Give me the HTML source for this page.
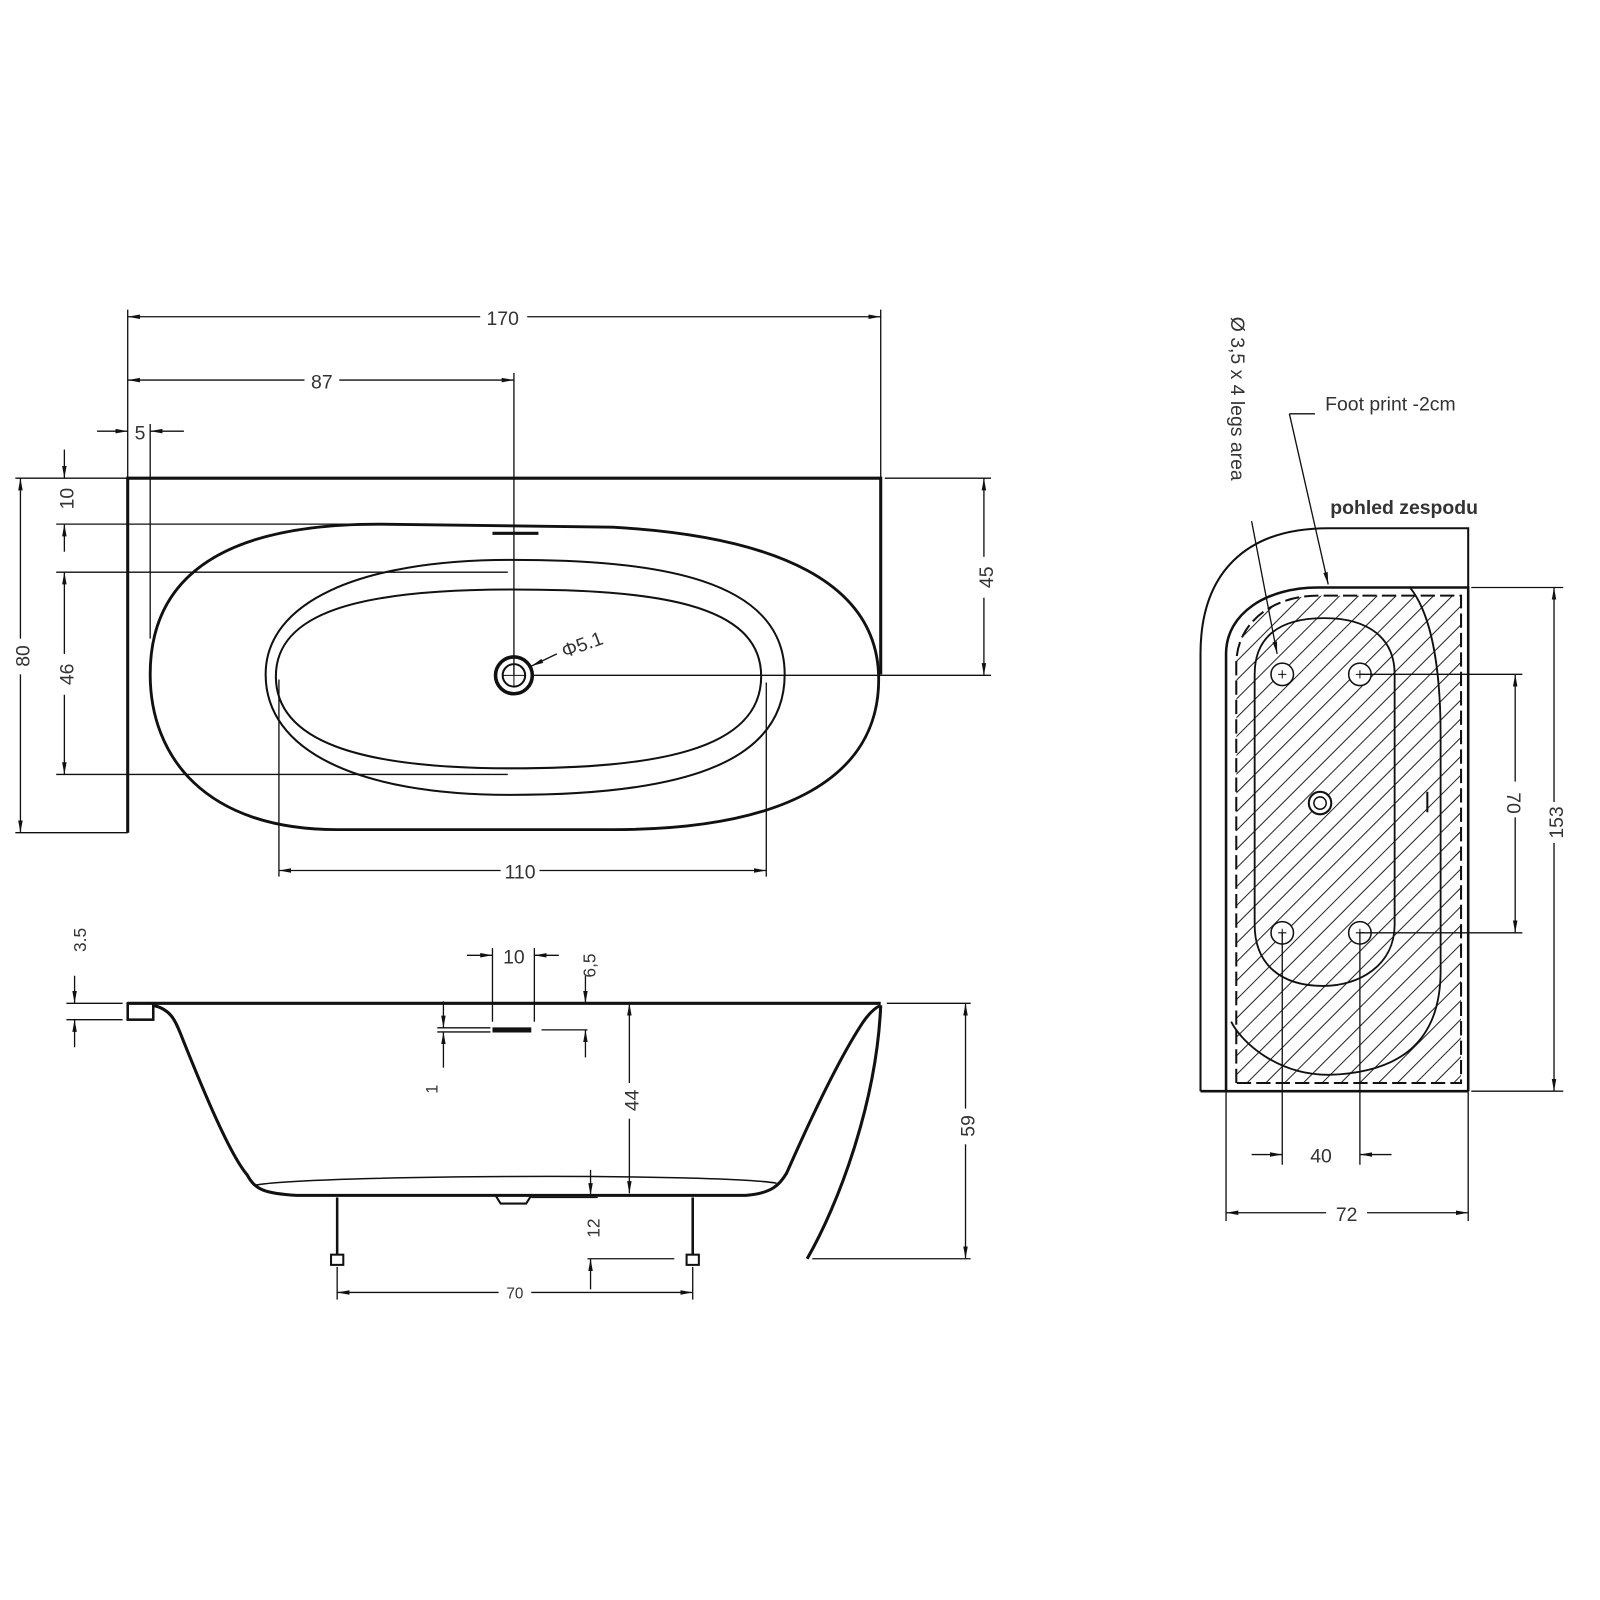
<!DOCTYPE html>
<html><head><meta charset="utf-8"><style>
html,body{margin:0;padding:0;background:#fff}
svg{display:block}
text{font-family:"Liberation Sans",sans-serif;fill:#333}
</style></head><body>
<svg width="1600" height="1600" viewBox="0 0 1566 1566" xmlns="http://www.w3.org/2000/svg">
<defs>
<marker id="a" viewBox="0 0 12 6" refX="12" refY="3" markerWidth="12" markerHeight="6" orient="auto" markerUnits="userSpaceOnUse"><path d="M0,0.8 L12,3 L0,5.2z" fill="#111"/></marker>
<marker id="b" viewBox="0 0 12 6" refX="0" refY="3" markerWidth="12" markerHeight="6" orient="auto" markerUnits="userSpaceOnUse"><path d="M12,0.8 L0,3 L12,5.2z" fill="#111"/></marker>
<pattern id="h" patternUnits="userSpaceOnUse" width="13" height="13" patternTransform="rotate(45)"><line x1="0" y1="0" x2="0" y2="13" stroke="#222" stroke-width="2"/></pattern>
<clipPath id="c"><path d="M1210,1060 L1210,650 C1210,610 1245,583 1290,583 L1430,583 L1430,1060 Z"/></clipPath>
</defs>
<g fill="none" stroke="#111">
<!-- TOP VIEW -->
<g stroke-width="1.3">
<line x1="125" y1="303" x2="125" y2="468"/><line x1="862" y1="303" x2="862" y2="468"/>
<line x1="125" y1="310" x2="470" y2="310" marker-start="url(#b)"/><line x1="516" y1="310" x2="862" y2="310" marker-end="url(#a)"/>
<line x1="125" y1="372" x2="298" y2="372" marker-start="url(#b)"/><line x1="332" y1="372" x2="503" y2="372" marker-end="url(#a)"/>
<line x1="503" y1="365" x2="503" y2="661"/>
<line x1="95" y1="422" x2="125" y2="422" marker-end="url(#a)"/><line x1="180" y1="422" x2="147" y2="422" marker-end="url(#a)"/>
<line x1="147" y1="415" x2="147" y2="625"/>
<line x1="15" y1="468" x2="125" y2="468"/><line x1="15" y1="815" x2="125" y2="815"/>
<line x1="55" y1="513" x2="370" y2="513"/>
<line x1="55" y1="560" x2="497" y2="560"/><line x1="55" y1="758" x2="497" y2="758"/>
<line x1="63" y1="440" x2="63" y2="468" marker-end="url(#a)"/><line x1="63" y1="540" x2="63" y2="513" marker-end="url(#a)"/>
<line x1="63" y1="560" x2="63" y2="640" marker-start="url(#b)"/><line x1="63" y1="680" x2="63" y2="758" marker-end="url(#a)"/>
<line x1="20" y1="468" x2="20" y2="625" marker-start="url(#b)"/><line x1="20" y1="660" x2="20" y2="815" marker-end="url(#a)"/>
<line x1="866" y1="468" x2="970" y2="468"/><line x1="520" y1="661" x2="970" y2="661"/>
<line x1="963" y1="468" x2="963" y2="545" marker-start="url(#b)"/><line x1="963" y1="585" x2="963" y2="661" marker-end="url(#a)"/>
<line x1="273" y1="665" x2="273" y2="858"/><line x1="750" y1="668" x2="750" y2="858"/>
<line x1="273" y1="852" x2="490" y2="852" marker-start="url(#b)"/><line x1="528" y1="852" x2="750" y2="852" marker-end="url(#a)"/>
<line x1="520" y1="652" x2="545" y2="640" marker-start="url(#b)"/>
</g>
<path d="M125,815 L125,468 L862,468 L862,660" stroke-width="3"/>
<path d="M370,513 L600,516 C760,525 860,570 860,665 C860,760 770,812 600,812 L330,812 C200,812 147,740 147,660 C147,570 210,513 370,513 Z" stroke-width="2.8"/>
<path d="M260,660 C260,590 350,548 500,548 C640,548 768,565 768,660 C768,750 660,778 500,778 C350,778 260,735 260,660 Z" stroke-width="2"/>
<path d="M270,662 C270,600 350,577 500,577 C640,577 745,590 745,662 C745,735 640,752 500,752 C350,752 270,725 270,662 Z" stroke-width="2"/>
<line x1="482" y1="522" x2="527" y2="522" stroke-width="3"/>
<circle cx="503" cy="661" r="18" stroke-width="3.5"/><circle cx="503" cy="661" r="11" stroke-width="2"/>
<line x1="492" y1="661" x2="514" y2="661" stroke-width="1"/><line x1="503" y1="650" x2="503" y2="672" stroke-width="1"/>

<!-- SIDE VIEW -->
<g stroke-width="1.3">
<line x1="65" y1="982" x2="120" y2="982"/><line x1="65" y1="998" x2="120" y2="998"/>
<line x1="73" y1="955" x2="73" y2="982" marker-end="url(#a)"/><line x1="73" y1="1025" x2="73" y2="998" marker-end="url(#a)"/>
<line x1="482" y1="928" x2="482" y2="1000"/><line x1="523" y1="928" x2="523" y2="1000"/>
<line x1="457" y1="935" x2="482" y2="935" marker-end="url(#a)"/><line x1="547" y1="935" x2="523" y2="935" marker-end="url(#a)"/>
<line x1="428" y1="1006" x2="480" y2="1006"/><line x1="428" y1="1010" x2="480" y2="1010"/>
<line x1="530" y1="1008" x2="575" y2="1008"/>
<line x1="573" y1="955" x2="573" y2="982" marker-end="url(#a)"/><line x1="573" y1="1035" x2="573" y2="1008" marker-end="url(#a)"/>
<line x1="434" y1="980" x2="434" y2="1006" marker-end="url(#a)"/><line x1="434" y1="1045" x2="434" y2="1010" marker-end="url(#a)"/>
<line x1="616" y1="982" x2="616" y2="1060" marker-start="url(#b)"/><line x1="616" y1="1095" x2="616" y2="1168" marker-end="url(#a)"/>
<line x1="578" y1="1145" x2="578" y2="1170" marker-end="url(#a)"/><line x1="520" y1="1172" x2="585" y2="1172"/>
<line x1="578" y1="1262" x2="578" y2="1232" marker-end="url(#a)"/><line x1="575" y1="1232" x2="660" y2="1232"/>
<line x1="868" y1="982" x2="950" y2="982"/><line x1="795" y1="1232" x2="950" y2="1232"/>
<line x1="945" y1="982" x2="945" y2="1085" marker-start="url(#b)"/><line x1="945" y1="1120" x2="945" y2="1232" marker-end="url(#a)"/>
<line x1="330" y1="1265" x2="488" y2="1265" marker-start="url(#b)"/><line x1="520" y1="1265" x2="678" y2="1265" marker-end="url(#a)"/>
<line x1="330" y1="1240" x2="330" y2="1272"/><line x1="678" y1="1240" x2="678" y2="1272"/>
</g>
<line x1="125" y1="982" x2="862" y2="982" stroke-width="3"/>
<rect x="125" y="982" width="25" height="16" stroke-width="2.5"/>
<path d="M150,984 C168,988 172,1000 178,1015 C200,1070 225,1130 242,1150 C250,1165 260,1168 290,1170 L730,1170 C755,1168 763,1160 770,1148 C800,1080 825,1030 845,1000 C852,990 857,986 862,984" stroke-width="3"/>
<path d="M250,1160 C300,1150 700,1148 760,1158" stroke-width="1.5"/>
<path d="M862,984 C858,1080 820,1180 790,1232" stroke-width="3"/>
<line x1="482" y1="1008" x2="520" y2="1008" stroke-width="5"/>
<path d="M485,1170 L490,1178 L515,1178 L520,1170" stroke-width="2"/>
<g stroke-width="2.5"><line x1="330" y1="1172" x2="330" y2="1228"/><line x1="678" y1="1172" x2="678" y2="1228"/></g>
<rect x="324" y="1228" width="12" height="10" stroke-width="2"/><rect x="672" y="1228" width="12" height="10" stroke-width="2"/>

<!-- BOTTOM VIEW -->
<rect x="1205" y="580" width="230" height="485" fill="url(#h)" stroke="none" clip-path="url(#c)"/>
<path d="M1200,1068 L1200,640 C1200,600 1240,575 1290,575 L1437,575 L1437,1068" stroke-width="2.5"/>
<path d="M1210,1060 L1210,650 C1210,610 1245,583 1290,583 L1430,583 L1430,1060 Z" stroke-width="2" stroke-dasharray="14 5"/>
<path d="M1175,1068 L1175,640 C1175,560 1220,517 1300,517 L1437,517 L1437,575" stroke-width="2"/>
<line x1="1175" y1="1068" x2="1437" y2="1068" stroke-width="2.5"/>
<path d="M1296,605 C1340,605 1365,625 1365,660 L1365,905 C1365,945 1330,965 1295,965 C1255,965 1228,945 1228,905 L1228,660 C1228,625 1250,605 1296,605 Z" stroke-width="1.8"/>
<path d="M1380,575 C1400,600 1410,650 1410,720 L1410,950 C1410,1020 1370,1050 1300,1052 C1250,1052 1215,1020 1205,1000" stroke-width="1.8"/>
<circle cx="1292" cy="786" r="11" stroke-width="2" fill="#fff"/><circle cx="1292" cy="786" r="6" stroke-width="1.5"/>
<line x1="1397" y1="775" x2="1397" y2="795" stroke-width="2"/>
<g stroke-width="1.5" fill="#fff">
<circle cx="1255" cy="660" r="11"/><circle cx="1331" cy="660" r="11"/><circle cx="1255" cy="913" r="11"/><circle cx="1331" cy="913" r="11"/>
</g>
<g stroke-width="1">
<path d="M1251,660h8M1255,656v8M1327,660h8M1331,656v8M1251,913h8M1255,909v8M1327,913h8M1331,909v8"/>
</g>
<g stroke-width="1.3">
<line x1="1331" y1="660" x2="1490" y2="660"/><line x1="1331" y1="913" x2="1490" y2="913"/>
<line x1="1440" y1="575" x2="1530" y2="575"/><line x1="1440" y1="1068" x2="1530" y2="1068"/>
<line x1="1483" y1="660" x2="1483" y2="765" marker-start="url(#b)"/><line x1="1483" y1="800" x2="1483" y2="913" marker-end="url(#a)"/>
<line x1="1521" y1="575" x2="1521" y2="785" marker-start="url(#b)"/><line x1="1521" y1="825" x2="1521" y2="1068" marker-end="url(#a)"/>
<line x1="1255" y1="913" x2="1255" y2="1140"/><line x1="1331" y1="913" x2="1331" y2="1140"/>
<line x1="1225" y1="1130" x2="1255" y2="1130" marker-end="url(#a)"/><line x1="1362" y1="1130" x2="1331" y2="1130" marker-end="url(#a)"/>
<line x1="1200" y1="1068" x2="1200" y2="1195"/><line x1="1437" y1="1068" x2="1437" y2="1195"/>
<line x1="1200" y1="1187" x2="1298" y2="1187" marker-start="url(#b)"/><line x1="1338" y1="1187" x2="1437" y2="1187" marker-end="url(#a)"/>
<line x1="1287" y1="405" x2="1262" y2="405"/><line x1="1262" y1="405" x2="1300" y2="572" marker-end="url(#a)"/>
<line x1="1225" y1="510" x2="1250" y2="640" marker-end="url(#a)"/>
</g>
</g>
<g font-size="19">
<text x="492" y="318" text-anchor="middle">170</text>
<text x="315" y="380" text-anchor="middle">87</text>
<text x="137" y="430" text-anchor="middle">5</text>
<text x="509" y="860" text-anchor="middle">110</text>
<text transform="translate(72,488) rotate(-90)" text-anchor="middle">10</text>
<text transform="translate(72,660) rotate(-90)" text-anchor="middle">46</text>
<text transform="translate(29,642) rotate(-90)" text-anchor="middle">80</text>
<text transform="translate(972,565) rotate(-90)" text-anchor="middle">45</text>
<text transform="translate(572,637) rotate(-20)" text-anchor="middle">Φ5.1</text>
<text transform="translate(84,920) rotate(-90)" text-anchor="middle" font-size="17">3.5</text>
<text x="503" y="943" text-anchor="middle">10</text>
<text transform="translate(583,945) rotate(-90)" text-anchor="middle" font-size="17">6,5</text>
<text transform="translate(428,1066) rotate(-90)" text-anchor="middle" font-size="16">1</text>
<text transform="translate(625,1077) rotate(-90)" text-anchor="middle">44</text>
<text transform="translate(587,1202) rotate(-90)" text-anchor="middle" font-size="17">12</text>
<text transform="translate(954,1102) rotate(-90)" text-anchor="middle">59</text>
<text x="504" y="1271" text-anchor="middle" font-size="15">70</text>
<text x="1297" y="402">Foot print -2cm</text>
<text x="1302" y="503" font-weight="bold" fill="#111">pohled zespodu</text>
<text transform="translate(1205,310) rotate(90)">Ø 3,5 x 4 legs area</text>
<text transform="translate(1475,786) rotate(90)" text-anchor="middle">70</text>
<text transform="translate(1530,805) rotate(-90)" text-anchor="middle">153</text>
<text x="1293" y="1138" text-anchor="middle">40</text>
<text x="1318" y="1195" text-anchor="middle">72</text>
</g>
</svg>
</body></html>
